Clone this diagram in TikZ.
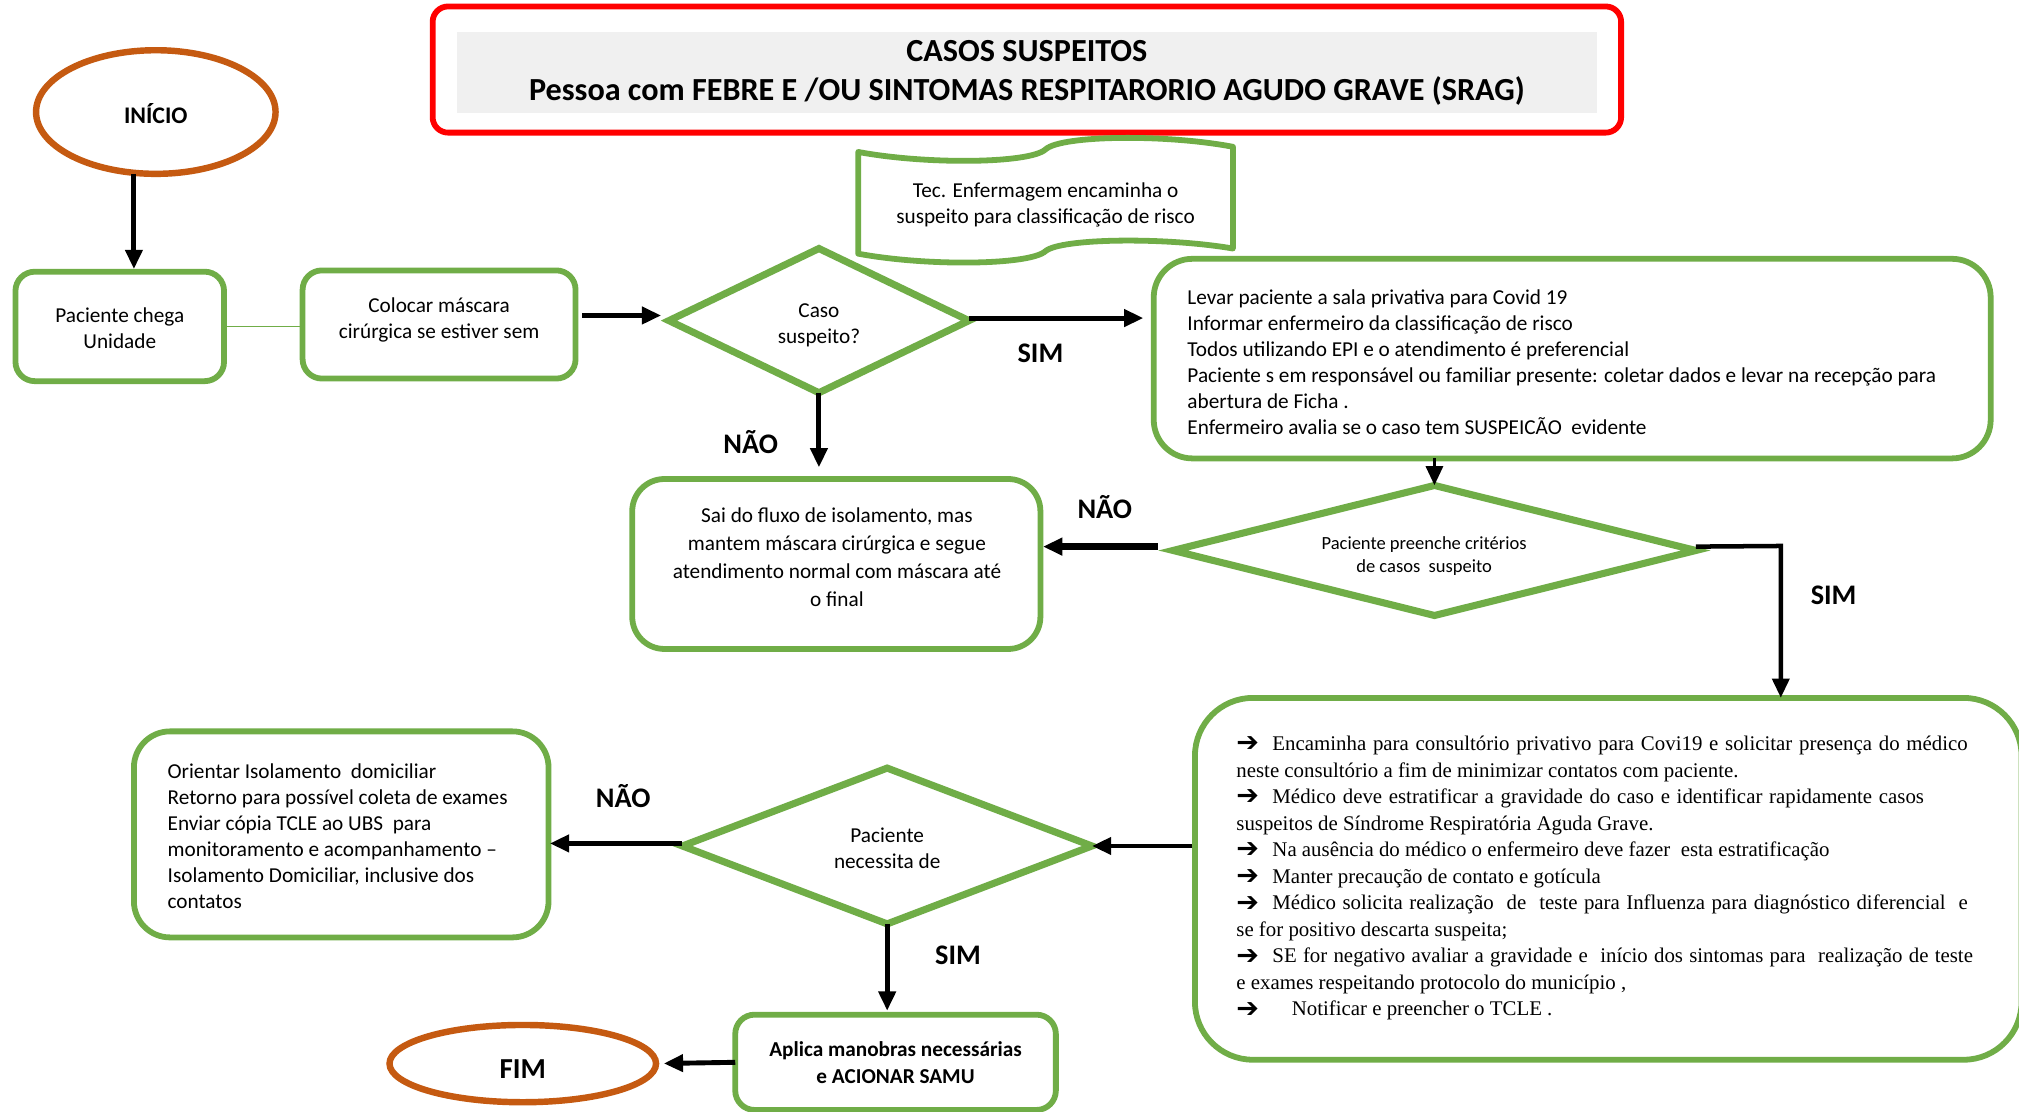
\documentclass[tikz,border=0pt]{standalone}
\usepackage{fontspec}
\setmainfont{Carlito}
\newfontfamily\serifbox{Liberation Serif}
\newfontfamily\arrowglyph{DejaVu Sans}
\usetikzlibrary{shapes.geometric,arrows.meta}

\definecolor{leaf}{HTML}{70AD47}
\definecolor{rust}{HTML}{C55A11}
\definecolor{alarm}{HTML}{FF0000}
\definecolor{paper}{HTML}{F0F0F0}

\newcommand{\fs}[2]{\fontsize{#1}{#2}\selectfont}
\newcommand{\bul}[1]{\makebox[#1][l]{\raisebox{-1pt}[0pt][0pt]{\arrowglyph\fs{21}{21}➔}}}
% justified first line of a bullet item
\newcommand{\jline}[2]{\makebox[#1][s]{#2}}

\begin{document}
\begin{tikzpicture}[x=1pt,y=-1pt,
  font=\fs{16.5}{20.2},
  gbox/.style={draw=leaf,line width=4.5pt,rounded corners=#1,fill=white,inner sep=0pt,outer sep=0pt},
  gbox/.default=15pt,
  dmd/.style={diamond,draw=leaf,line width=5.5pt,fill=white,inner sep=0pt,outer sep=0pt,align=center},
  term/.style={ellipse,draw=rust,line width=5pt,fill=white,inner sep=0pt,outer sep=0pt},
  arr/.style={line width=3.8pt,-{Triangle[length=15pt,width=13pt]}},
  tag/.style={font=\bfseries\fs{22}{26},inner sep=0pt},
  txt/.style={align=center,inner sep=0pt}
]
\useasboundingbox (0,0) rectangle (1568,863);
\fill[white] (0,0) rectangle (1568,863);

% heading
\node[draw=alarm,line width=4.5pt,rounded corners=12pt,minimum width=923pt,minimum height=98pt,inner sep=0pt] (frame) at (797.5,54) {};
\node[fill=paper,minimum width=885pt,minimum height=63pt,inner sep=0pt,align=center,font=\bfseries\fs{25}{30}] (title) at (797.5,56.5)
  {CASOS SUSPEITOS\\Pessoa com FEBRE E /OU SINTOMAS RESPITARORIO AGUDO GRAVE (SRAG)};

% start and arrival
\node[term,minimum width=186pt,minimum height=96pt] (inicio) at (121,87) {};
\node[txt,font=\bfseries\fs{18.5}{22}] (inicio-t) at (121,88) {INÍCIO};
\node[gbox,minimum width=162pt,minimum height=85pt,align=center] (chega) at (93,253.5) {};
\node[txt] (chega-t) at (93,254.5) {Paciente chega\\Unidade};
\node[gbox,minimum width=212pt,minimum height=84pt] (colocar) at (341,252) {};
\node[txt] (colocar-t) at (341,248.5) {Colocar máscara\\cirúrgica se estiver sem};

% first decision
\node[dmd,minimum width=233pt,minimum height=112pt,aspect=2.08] (caso) at (636,249) {};
\node[txt] (caso-t) at (636,253) {Caso\\suspeito?};

% nursing technician banner
\draw[leaf,line width=4.5pt,fill=white,line join=round]
  (666.5,118) .. controls (720,128) and (800,127) .. (812,116)
  .. controls (824,105) and (905,104) .. (957.5,114) -- (957.5,193)
  .. controls (905,184) and (824,185) .. (812,195)
  .. controls (800,206) and (720,207) .. (666.5,197) -- cycle;
\node[txt] (tec) at (812,159) {Tec. Enfermagem encaminha o\\suspeito para classificação de risco};

% private room instructions
\node[gbox=30pt,minimum width=650pt,minimum height=155pt] (box1) at (1221,278.5) {};
\node[anchor=west,align=left,inner sep=0pt] (box1-t) at (922,281.5)
  {Levar paciente a sala privativa para Covid 19\\
   Informar enfermeiro da classificação de risco\\
   Todos utilizando EPI e o atendimento é preferencial\\
   Paciente s em responsável ou familiar presente: coletar dados e levar na recepção para\\
   abertura de Ficha .\\
   Enfermeiro avalia se o caso tem SUSPEICÃO~ evidente};

% leaves isolation flow
\node[gbox=25pt,minimum width=317pt,minimum height=132pt] (sai) at (649.5,438) {};
\node[txt,font=\fs{16.5}{21.7}] (sai-t) at (650,433)
  {Sai do fluxo de isolamento, mas\\mantem máscara cirúrgica e segue\\atendimento normal com máscara até\\o final};

% second decision
\node[dmd,minimum width=406pt,minimum height=101pt,aspect=4] (crit) at (1114,427.5) {};
\node[txt,font=\fs{14.4}{18}] (crit-t) at (1106,432) {Paciente preenche critérios\\de casos~ suspeito};
\coordinate (simcorner) at (1383,424);

% medical office steps
\node[gbox=45pt,minimum width=642pt,minimum height=281pt] (box2) at (1249,682.5) {};
\node[anchor=west,align=left,inner sep=0pt,font=\serifbox\fs{16.2}{20.6}] (box2-t) at (960,682)
  {\bul{28pt}\jline{540pt}{Encaminha para consultório privativo para Covi19 e solicitar presença do médico}\\
   neste consultório a fim de minimizar contatos com paciente.\\
   \bul{28pt}\jline{506pt}{Médico deve estratificar a gravidade do caso e identificar rapidamente casos}\\
   suspeitos de Síndrome Respiratória Aguda Grave.\\
   \bul{28pt}Na ausência do médico o enfermeiro deve fazer~ esta estratificação\\
   \bul{28pt}Manter precaução de contato e gotícula\\
   \bul{28pt}\jline{540pt}{Médico solicita realização~ de~ teste para Influenza para diagnóstico diferencial~ e}\\
   se for positivo descarta suspeita;\\
   \bul{28pt}\jline{544pt}{SE for negativo avaliar a gravidade e~ início dos sintomas para~ realização de teste}\\
   e exames respeitando protocolo do município ,\\
   \bul{43pt}Notificar e preencher o TCLE .};

% third decision
\node[dmd,minimum width=318pt,minimum height=121pt,aspect=2.6] (need) at (689,657) {};
\node[txt] (need-t) at (689,659) {Paciente\\necessita de};

% home isolation
\node[gbox=28pt,minimum width=322pt,minimum height=160pt] (orient) at (265,648) {};
\node[anchor=west,align=left,inner sep=0pt] (orient-t) at (130,649.5)
  {Orientar Isolamento~ domiciliar\\
   Retorno para possível coleta de exames\\
   Enviar cópia TCLE ao UBS~ para\\
   monitoramento e acompanhamento –\\
   Isolamento Domiciliar, inclusive dos\\
   contatos};

% emergency and end
\node[gbox,minimum width=249pt,minimum height=74pt,align=center,font=\bfseries\fs{16.5}{21}] (aplica) at (695.5,825)
  {Aplica manobras necessárias\\e ACIONAR SAMU};
\node[term,minimum width=207pt,minimum height=60pt] (fim) at (406,826) {};
\node[txt,font=\bfseries\fs{22.5}{26}] (fim-t) at (406,830) {FIM};

% connectors
\draw[arr,shorten >=2pt] ([xshift=-17pt]inicio.south) -- ([xshift=-17pt]inicio.south |- chega.north);
\draw[leaf,line width=1pt] (chega.east) -- (chega.east -| colocar.west);
\draw[arr,shorten <=5pt,shorten >=6pt] ([yshift=7pt]colocar.east) -- ([yshift=7pt]colocar.east -| caso.west);
\draw[arr,shorten >=8pt] ([yshift=2pt]caso.east) -- ([yshift=2pt]caso.east -| box1.west);
\draw[arr,shorten >=9pt] (caso.south) -- (caso.south |- sai.north);
\draw[arr,line width=3pt] (crit.north |- box1.south) -- (crit.north);
\draw[arr,line width=5pt,shorten <=12pt,shorten >=2pt] ([yshift=3pt]crit.west) -- ([yshift=3pt]crit.west -| sai.east);
\draw[arr,line width=3.5pt] ([yshift=3pt]crit.east) -- (simcorner) -- (simcorner |- box2.north);
\draw[arr,shorten <=2pt] (need.east -| box2.west) -- (need.east);
\draw[arr,shorten >=1pt] ([yshift=2pt]need.west) -- ([yshift=2pt]need.west -| orient.east);
\draw[arr,shorten >=3pt] (need.south) -- (need.south |- aplica.north);
\draw[arr,shorten >=6pt] (aplica.west) -- (fim.east);

% branch labels
\node[tag] (l-sim1) at (808,274) {SIM};
\node[tag] (l-nao1) at (583,343) {NÃO};
\node[tag] (l-nao2) at (858,394) {NÃO};
\node[tag] (l-sim2) at (1424,462) {SIM};
\node[tag] (l-nao3) at (484,618) {NÃO};
\node[tag] (l-sim3) at (744,742) {SIM};
\end{tikzpicture}
\end{document}
